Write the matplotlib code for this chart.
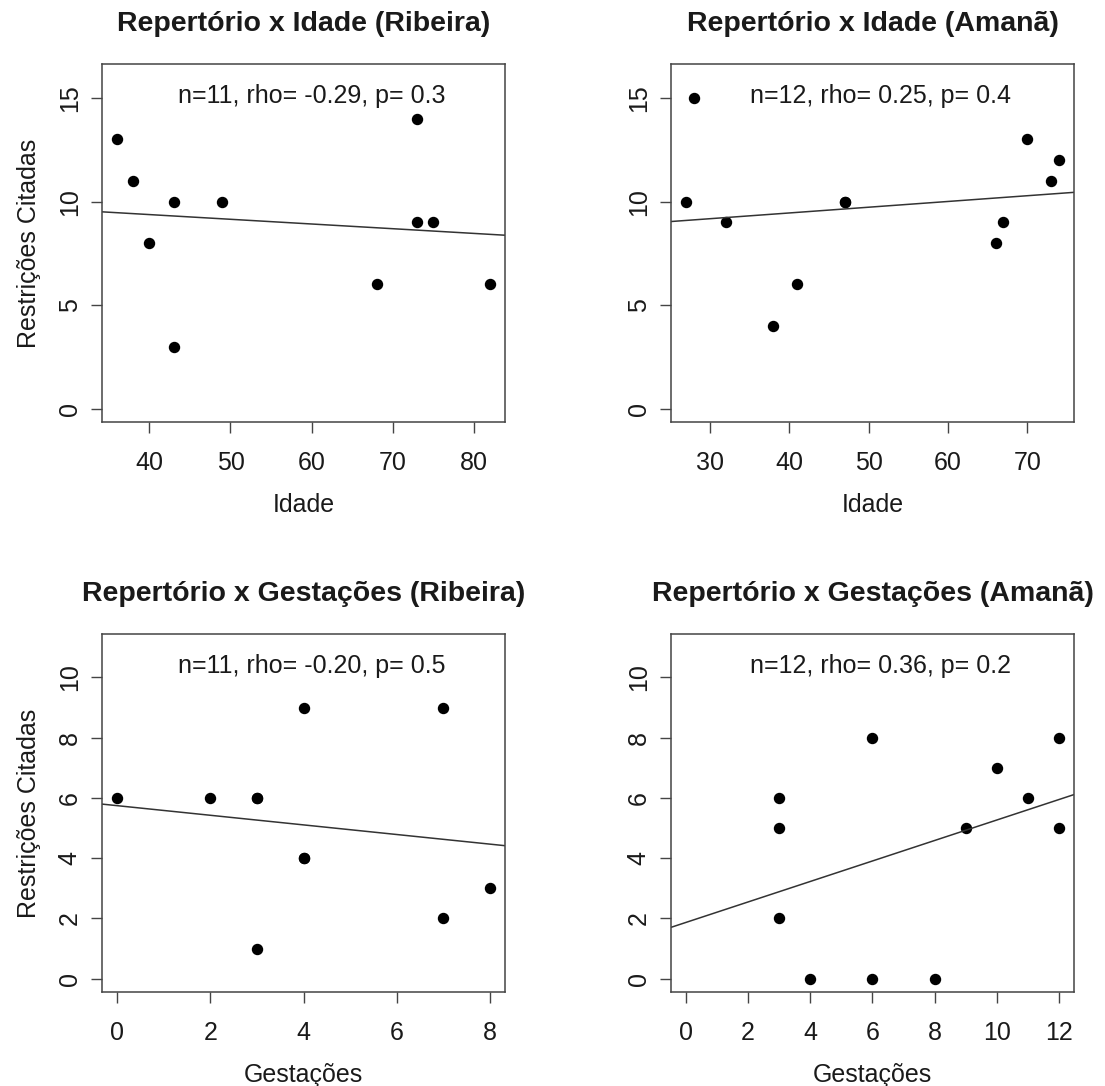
import numpy as np
import matplotlib
matplotlib.use('Agg')
import matplotlib.pyplot as plt

plt.rcParams['font.family'] = ['Liberation Sans', 'DejaVu Sans']

# Ribeira - idade
idade_rib = [36, 38, 40, 43, 43, 49, 68, 73, 73, 75, 82]
restr_idade_rib = [13, 11, 8, 10, 3, 10, 6, 14, 9, 9, 6]
# Amanã - idade (um ponto repetido em 47,10)
idade_ama = [27, 28, 32, 38, 41, 47, 47, 66, 67, 70, 73, 74]
restr_idade_ama = [10, 15, 9, 4, 6, 10, 10, 8, 9, 13, 11, 12]
# Ribeira - gestações (pontos repetidos em 3,6 e 4,4)
gest_rib = [0, 2, 3, 3, 3, 4, 4, 4, 7, 7, 8]
restr_gest_rib = [6, 6, 6, 6, 1, 9, 4, 4, 9, 2, 3]
# Amanã - gestações
gest_ama = [3, 3, 3, 4, 6, 6, 8, 9, 10, 11, 12, 12]
restr_gest_ama = [6, 5, 2, 0, 8, 0, 0, 5, 7, 6, 8, 5]

titulos = ['Repertório x Idade (Ribeira)', 'Repertório x Idade (Amanã)',
           'Repertório x Gestações (Ribeira)', 'Repertório x Gestações (Amanã)']
legendas = ['n=11, rho= -0.29, p= 0.3', 'n=12, rho= 0.25, p= 0.4',
            'n=11, rho= -0.20, p= 0.5', 'n=12, rho= 0.36, p= 0.2']
xlabs = ['Idade', 'Idade', 'Gestações', 'Gestações']
ylab = 'Restrições Citadas'
# limites como no R (xlim/ylim), None = faixa dos dados
xlims = [None, None, (0, 8), (0, 12)]
ylims = [(0, 16), (0, 16), (0, 11), (0, 11)]
yticks_top = [0, 5, 10, 15]
yticks_bot = [0, 2, 4, 6, 8, 10]
xticks_list = [[40, 50, 60, 70, 80], [30, 40, 50, 60, 70],
               [0, 2, 4, 6, 8], [0, 2, 4, 6, 8, 10, 12]]

W, H = 1105, 1086
fig = plt.figure(figsize=(W/100, H/100), dpi=100)

txtc = '#1a1a1a'
boxc = '#444444'
fs = 18

def r_range(v, pad=0.04):
    lo, hi = min(v), max(v)
    d = (hi - lo)*pad
    return lo - d, hi + d

def painel(rect, x, y, titulo, leg, xlab, xlim, ylim, yticks, xticks, show_ylab):
    ax = fig.add_axes(rect)
    ax.plot(x, y, 'o', color='black', ms=7.2, mec='black')
    xl = r_range(xlim if xlim is not None else x)
    yl = r_range(ylim)
    a, b = np.polyfit(x, y, 1)
    xx = np.array(xl)
    ax.plot(xx, a*xx + b, color='#333333', lw=1.1)
    ax.set_xlim(xl)
    ax.set_ylim(yl)
    ax.set_xticks(xticks)
    ax.set_yticks(yticks)
    ax.set_yticklabels([str(t) for t in yticks], rotation=90, va='center')
    ax.tick_params(length=7.6, width=1, color=boxc, labelsize=fs,
                   labelcolor=txtc)
    ax.tick_params(axis='x', pad=13)
    ax.tick_params(axis='y', pad=7)
    for s in ax.spines.values():
        s.set_color(boxc)
        s.set_linewidth(1.1)
    # texto tipo legend("top") do R, um pouco deslocado p/ direita
    ax.text(0.521, 0.91, leg, transform=ax.transAxes, ha='center', va='center',
            fontsize=fs, color=txtc)
    ax.text(0.5, 1.112, titulo, transform=ax.transAxes, ha='center', va='center',
            fontsize=20.5, fontweight='bold', color=txtc)
    ax.set_xlabel(xlab, fontsize=fs, color=txtc, labelpad=13)
    if show_ylab:
        ax.set_ylabel(ylab, fontsize=fs, color=txtc, labelpad=12)
    return ax

wax = 403/W
hax = 358/H
rects = [
    [102/W, 1 - 422/H, wax, hax],
    [671/W, 1 - 422/H, wax, hax],
    [102/W, 1 - 992/H, wax, hax],
    [671/W, 1 - 992/H, wax, hax],
]
dados = [(idade_rib, restr_idade_rib), (idade_ama, restr_idade_ama),
         (gest_rib, restr_gest_rib), (gest_ama, restr_gest_ama)]

for i in range(4):
    yt = yticks_top if i < 2 else yticks_bot
    painel(rects[i], dados[i][0], dados[i][1], titulos[i], legendas[i],
           xlabs[i], xlims[i], ylims[i], yt, xticks_list[i], i % 2 == 0)

fig.savefig('out.png', dpi=100, facecolor='white')
